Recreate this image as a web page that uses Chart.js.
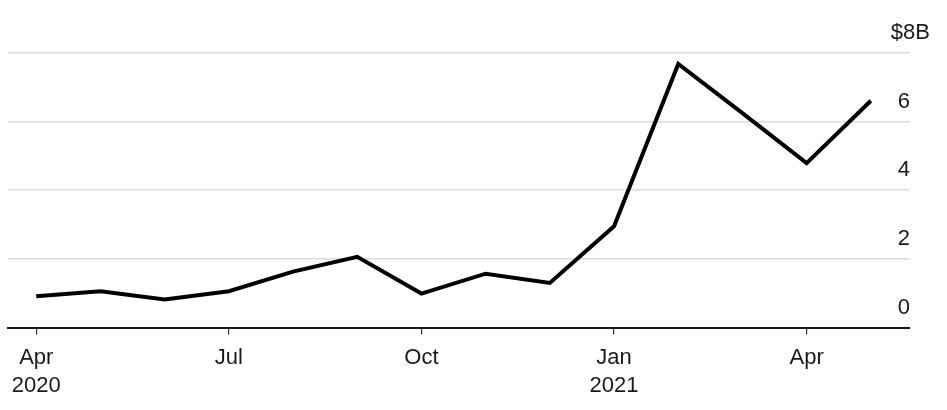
<!DOCTYPE html>
<html>
<head>
<meta charset="utf-8">
<script src="https://cdn.jsdelivr.net/npm/chart.js@4"></script>
<style>
  html, body { margin: 0; padding: 0; background: #fff; }
  #wrap { width: 947px; height: 410px; }
</style>
</head>
<body>
<div id="wrap"><canvas id="chart"></canvas></div>
<script>
// monthly values, Apr 2020 - May 2021, in $B
const months = ['2020-04', '2020-05', '2020-06', '2020-07', '2020-08', '2020-09', '2020-10',
                '2020-11', '2020-12', '2021-01', '2021-02', '2021-03', '2021-04', '2021-05'];
const values = [0.91, 1.06, 0.82, 1.06, 1.63, 2.06, 0.99, 1.57, 1.30, 2.95, 7.68, 6.25, 4.79, 6.61];

// x ticks (month index) and their labels
const xTickIdx = [0, 3, 6, 9, 12];
const xTickLabels = [['Apr', '2020'], 'Jul', 'Oct', ['Jan', '2021'], 'Apr'];

// y ticks
const yTicks = [0, 2, 4, 6, 8];
const yTickLabels = ['0', '2', '4', '6', '$8B'];

const FONT = 'Liberation Sans, Arial, sans-serif';
const TEXT = '#1a1a1a';

// y labels sit above their grid line, right aligned at the chart edge
const yLabelPlugin = {
    id: 'yLabels',
    afterDraw(chart) {
        const ctx = chart.ctx;
        const y = chart.scales.y;
        const right = chart.chartArea.right;
        ctx.save();
        ctx.font = '22px ' + FONT;
        ctx.fillStyle = TEXT;
        ctx.textBaseline = 'middle';
        ctx.textAlign = 'right';
        yTicks.forEach((v, i) => {
            const py = y.getPixelForValue(v) - 20;
            // the unit label hangs past the edge
            const px = i === yTicks.length - 1 ? right + 20 : right;
            ctx.fillText(yTickLabels[i], px, py);
        });
        ctx.restore();
    }
};

const ctx = document.getElementById('chart').getContext('2d');
const chart = new Chart(ctx, {
    type: 'line',
    data: {
        datasets: [{
            data: values.map((v, i) => ({ x: i, y: v })),
            borderColor: '#000',
            borderWidth: 4,
            pointRadius: 0,
            tension: 0,
            fill: false,
            borderJoinStyle: 'miter'
        }]
    },
    options: {
        responsive: true,
        maintainAspectRatio: false,
        animation: false,
        layout: { padding: { left: 8, right: 37, top: 53, bottom: 0 } },
        plugins: {
            legend: { display: false },
            tooltip: { enabled: false }
        },
        scales: {
            x: {
                type: 'linear',
                min: -0.44,
                max: 13.61,
                afterBuildTicks: function(scale) {
                    scale.ticks = xTickIdx.map(v => ({ value: v }));
                },
                grid: {
                    drawOnChartArea: false,
                    drawTicks: true,
                    tickLength: 7,
                    color: '#333',
                    lineWidth: 1.2
                },
                border: { display: true, color: '#1a1a1a', width: 2 },
                ticks: {
                    autoSkip: false,
                    maxRotation: 0,
                    padding: 10,
                    color: TEXT,
                    font: { size: 22, family: FONT, lineHeight: 1.26 },
                    callback: function(value) {
                        const k = xTickIdx.indexOf(value);
                        return k >= 0 ? xTickLabels[k] : null;
                    }
                }
            },
            y: {
                position: 'right',
                min: 0,
                max: 8,
                afterBuildTicks: function(scale) {
                    scale.ticks = yTicks.map(v => ({ value: v }));
                },
                grid: {
                    color: '#dcdcdc',
                    lineWidth: 1.6,
                    drawTicks: false
                },
                border: { display: false },
                ticks: { display: false }
            }
        }
    },
    plugins: [yLabelPlugin]
});
</script>
</body>
</html>
